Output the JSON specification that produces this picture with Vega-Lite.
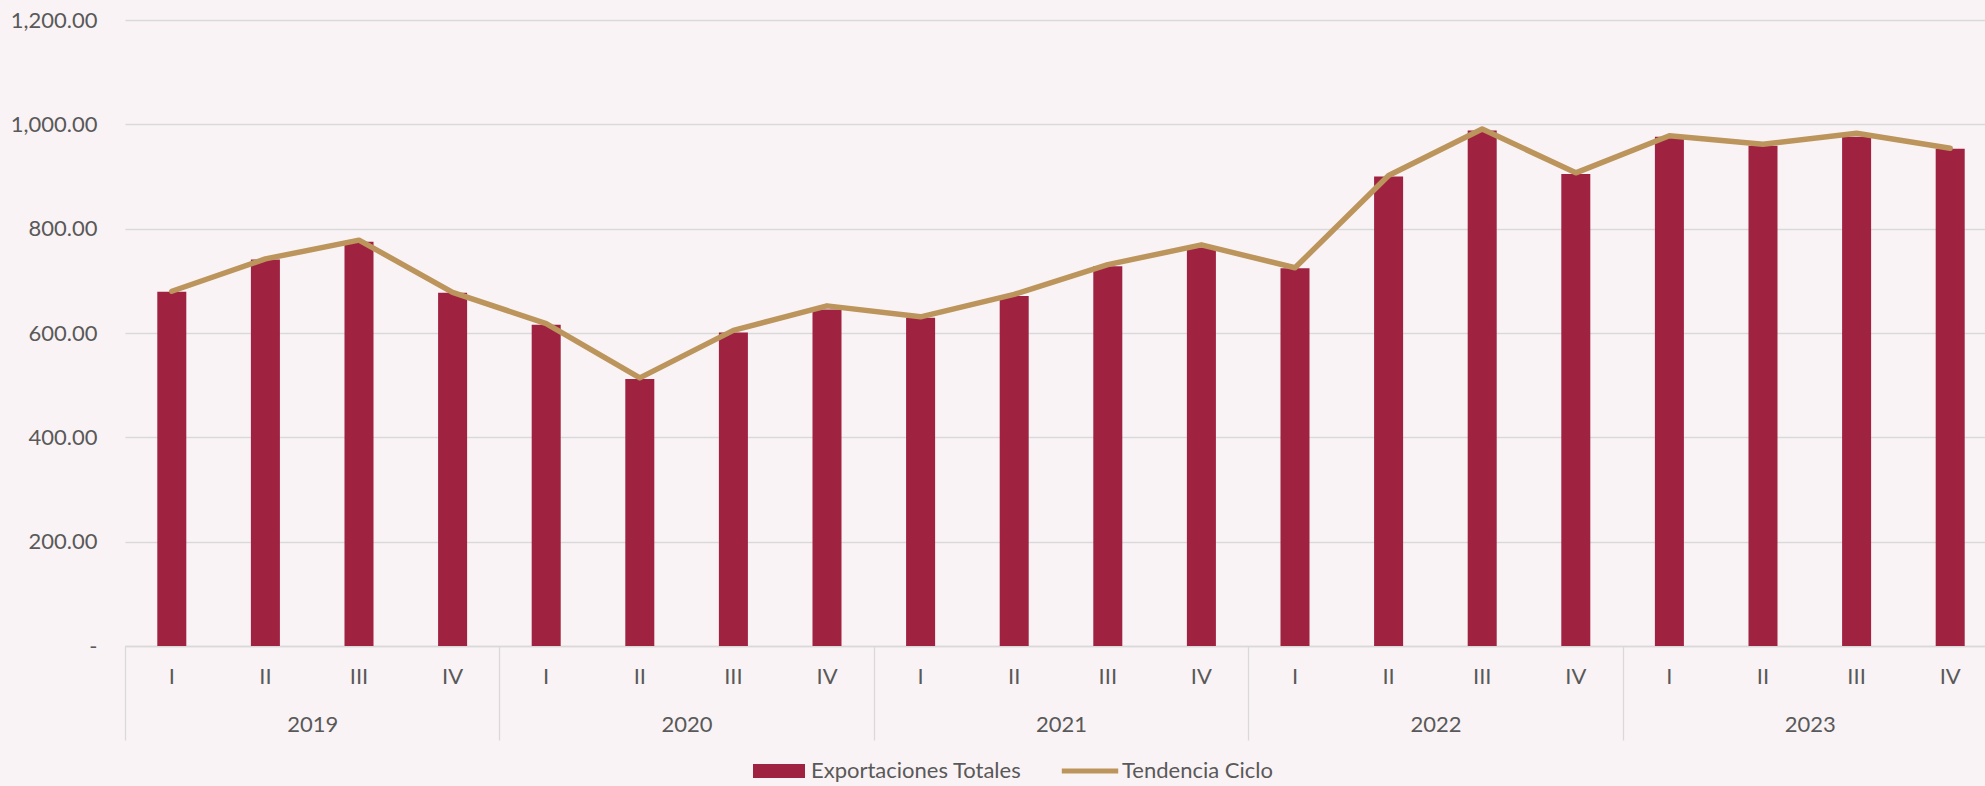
{
  "$schema": "https://vega.github.io/schema/vega-lite/v6.json",
  "width": 1872,
  "height": 626,
  "autosize": {"type": "none"},
  "padding": {"left": 125, "top": 20, "right": -12, "bottom": 140},
  "background": "#faf3f5",
  "config": {"view": {"stroke": null}, "font": "Lato"},
  "data": {
    "values": [
      {"key": "2019-I", "year": "2019", "exp": 679, "trend": 680},
      {"key": "2019-II", "year": "2019", "exp": 741, "trend": 742},
      {"key": "2019-III", "year": "2019", "exp": 775, "trend": 778},
      {"key": "2019-IV", "year": "2019", "exp": 677, "trend": 678},
      {"key": "2020-I", "year": "2020", "exp": 616, "trend": 618},
      {"key": "2020-II", "year": "2020", "exp": 512, "trend": 514},
      {"key": "2020-III", "year": "2020", "exp": 601, "trend": 605},
      {"key": "2020-IV", "year": "2020", "exp": 645, "trend": 652},
      {"key": "2021-I", "year": "2021", "exp": 629, "trend": 631},
      {"key": "2021-II", "year": "2021", "exp": 671, "trend": 674},
      {"key": "2021-III", "year": "2021", "exp": 728, "trend": 731},
      {"key": "2021-IV", "year": "2021", "exp": 764, "trend": 769},
      {"key": "2022-I", "year": "2022", "exp": 724, "trend": 725},
      {"key": "2022-II", "year": "2022", "exp": 900, "trend": 902},
      {"key": "2022-III", "year": "2022", "exp": 988, "trend": 991},
      {"key": "2022-IV", "year": "2022", "exp": 905, "trend": 907},
      {"key": "2023-I", "year": "2023", "exp": 976, "trend": 978},
      {"key": "2023-II", "year": "2023", "exp": 959, "trend": 962},
      {"key": "2023-III", "year": "2023", "exp": 976, "trend": 983},
      {"key": "2023-IV", "year": "2023", "exp": 953, "trend": 954}
    ]
  },
  "layer": [
    {
      "layer": [
        {
          "mark": {"type": "bar", "color": "#9F2241"},
          "encoding": {
            "x": {
              "field": "key", "type": "nominal", "sort": null,
              "scale": {"paddingInner": 0.69, "paddingOuter": 0.345},
              "axis": {
                "title": null,
                "labelExpr": "split(datum.value, '-')[1]",
                "labelAngle": 0,
                "ticks": false,
                "domain": true,
                "domainColor": "#d9d9d9",
                "domainWidth": 1.3,
                "grid": false,
                "labelPadding": 30,
                "labelBaseline": "middle",
                "labelFont": "Lato",
                "labelFontSize": 22,
                "labelColor": "#595959"
              }
            },
            "y": {
              "field": "exp", "type": "quantitative",
              "scale": {"domain": [0, 1200], "nice": false},
              "axis": {
                "title": null,
                "values": [0, 200, 400, 600, 800, 1000, 1200],
                "labelExpr": "datum.value === 0 ? '-\u00a0\u00a0\u00a0\u00a0\u00a0\u00a0' : format(datum.value, ',.2f')",
                "domain": false,
                "ticks": false,
                "labelPadding": 28,
                "gridColor": "#d9d9d9",
                "gridWidth": 1.3,
                "labelFont": "Lato",
                "labelFontSize": 22,
                "labelColor": "#595959"
              }
            },
            "color": {
              "datum": "Exportaciones Totales",
              "scale": {"domain": ["Exportaciones Totales", "Tendencia Ciclo"], "range": ["#9F2241", "#BC955C"]},
              "legend": {
                "orient": "none",
                "legendX": 628,
                "legendY": 725,
                "direction": "horizontal",
                "title": null,
                "padding": 0,
                "symbolSize": 2704,
                "labelOffset": 6,
                "labelLimit": 0,
                "columnPadding": 39,
                "labelFont": "Lato",
                "labelFontSize": 22,
                "labelColor": "#595959",
                "encode": {
                  "symbols": {
                    "update": {
                      "shape": {"signal": "datum.value === 'Tendencia Ciclo' ? 'M-1.085,-0.1H1.085V0.1H-1.085Z' : 'M-1,-0.27H1V0.27H-1Z'"},
                      "fill": {"signal": "datum.value === 'Tendencia Ciclo' ? '#BC955C' : '#9F2241'"},
                      "stroke": {"value": "transparent"},
                      "strokeWidth": {"value": 0},
                      "opacity": {"value": 1},
                      "fillOpacity": {"value": 1}
                    }
                  }
                }
              }
            }
          }
        },
        {
          "mark": {"type": "line", "strokeWidth": 5.5, "strokeCap": "round", "strokeJoin": "round"},
          "encoding": {
            "x": {"field": "key", "type": "nominal", "sort": null},
            "y": {"field": "trend", "type": "quantitative"},
            "color": {"datum": "Tendencia Ciclo"}
          }
        }
      ]
    },
    {
      "mark": {"type": "point", "opacity": 0},
      "encoding": {
        "x": {
          "field": "year", "type": "nominal", "sort": null,
          "scale": {"type": "band", "paddingInner": 0, "paddingOuter": 0},
          "axis": {
            "orient": "bottom",
            "title": null,
            "domain": false,
            "ticks": true,
            "tickBand": "extent",
            "tickSize": 94,
            "tickColor": "#d9d9d9",
            "tickWidth": 1.3,
            "grid": false,
            "labelAngle": 0,
            "labelPadding": -16,
            "labelBaseline": "middle",
            "labelFont": "Lato",
            "labelFontSize": 22,
            "labelColor": "#595959"
          }
        }
      }
    }
  ],
  "resolve": {"scale": {"x": "independent"}, "axis": {"x": "independent"}}
}
